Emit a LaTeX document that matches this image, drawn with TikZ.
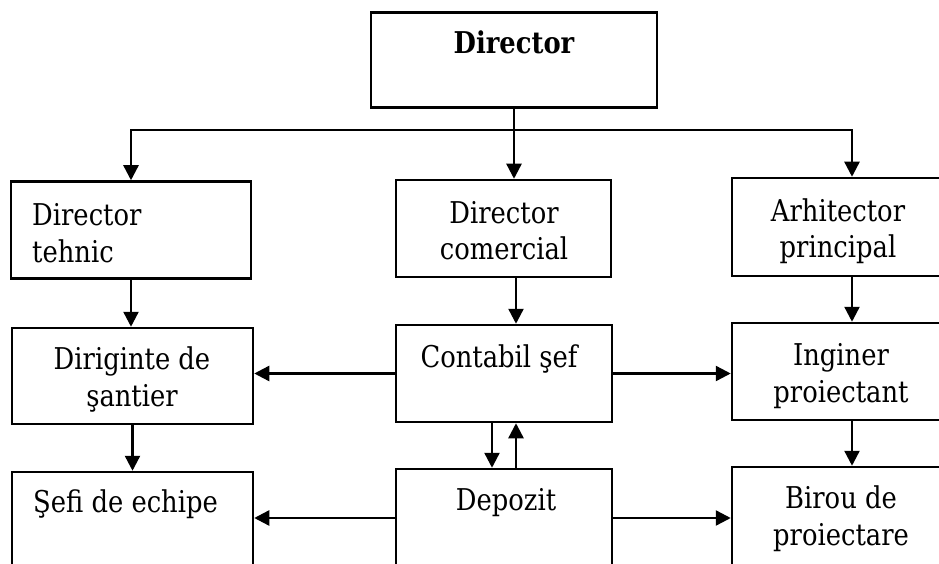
\documentclass[tikz,border=0pt]{standalone}
\usepackage{fontspec}
\setmainfont{DejaVu Serif}[FakeStretch=0.86]
\usetikzlibrary{arrows.meta}
\begin{document}
\begin{tikzpicture}[x=1pt,y=-1pt,
  box/.style={draw, line width=2.5pt, inner sep=0pt, rectangle},
  txt/.style={inner sep=0pt, font=\fontsize{30}{36}\selectfont},
  arr/.style={line width=2.4pt, -{Triangle[length=15pt,width=15pt]}}]
\clip (0,0) rectangle (939,564);
\fill[white] (0,0) rectangle (939,564);
% boxes
\node[box, minimum width=286pt, minimum height=95pt] (dir) at (514,60) {};
\node[box, minimum width=240pt, minimum height=97pt] (teh) at (131,230) {};
\node[box, minimum width=215pt, minimum height=97pt] (com) at (503.5,228.5) {};
\node[box, minimum width=240pt, minimum height=98pt] (arh) at (852,227) {};
\node[box, minimum width=241pt, minimum height=96pt] (dig) at (132.5,376) {};
\node[box, minimum width=216pt, minimum height=97pt] (con) at (504,373.5) {};
\node[box, minimum width=240pt, minimum height=97pt] (ing) at (852,371.5) {};
\node[box, minimum width=241pt, minimum height=116pt] (sef) at (132.5,530) {};
\node[box, minimum width=216pt, minimum height=118pt] (dep) at (504,528) {};
\node[box, minimum width=240pt, minimum height=118pt] (bir) at (852,526) {};
% texts
\node[txt, anchor=base, font=\fontsize{30}{36}\selectfont\bfseries] (tdir) at (514,54) {Director};
\node[txt, anchor=base west] (tteh1) at (32,225) {Director};
\node[txt, anchor=base west] (tteh2) at (32,262) {tehnic};
\node[txt, anchor=base] (tcom1) at (504,223) {Director};
\node[txt, anchor=base] (tcom2) at (504,259) {comercial};
\node[txt, anchor=base] (tarh1) at (838,221) {Arhitector};
\node[txt, anchor=base] (tarh2) at (838,257) {principal};
\node[txt, anchor=base] (tdig1) at (132,369) {Diriginte de};
\node[txt, anchor=base] (tdig2) at (132,406) {şantier};
\node[txt, anchor=base] (tcon) at (499,367) {Contabil şef};
\node[txt, anchor=base] (ting1) at (841,365) {Inginer};
\node[txt, anchor=base] (ting2) at (841,402) {proiectant};
\node[txt, anchor=base west] (tsef) at (33,512) {Şefi de echipe};
\node[txt, anchor=base] (tdep) at (506,510) {Depozit};
\node[txt, anchor=base] (tbir1) at (841,508) {Birou de};
\node[txt, anchor=base] (tbir2) at (841,545) {proiectare};
% connectors
\coordinate (busy) at (0,130);
\coordinate (bus) at (dir.south |- busy);
\coordinate (ylow) at (0,518);
\draw[line width=2.4pt] (dir.south) -- (bus);
\draw[arr] (bus) -- (bus |- com.north);
\draw[arr] (bus) -| (teh.north);
\draw[arr] (bus) -| (arh.north);
\draw[arr] (teh.south) -- (teh.south |- dig.north);
\draw[arr] ([xshift=12.5pt]com.south) -- ([xshift=12.5pt]com.south |- con.north);
\draw[arr] (arh.south) -- (arh.south |- ing.north);
\draw[arr] (dig.south) -- (dig.south |- sef.north);
\draw[arr] (ing.south) -- (ing.south |- bir.north);
\draw[arr] ([xshift=-12pt]con.south) -- ([xshift=-12pt]con.south |- dep.north);
\draw[arr] ([xshift=12pt]dep.north) -- ([xshift=12pt]dep.north |- con.south);
\draw[arr] (con.west) -- (con.west -| dig.east);
\draw[arr] (con.east) -- (con.east -| ing.west);
\draw[arr] (dep.west |- ylow) -- (sef.east |- ylow);
\draw[arr] (dep.east |- ylow) -- (bir.west |- ylow);
\end{tikzpicture}
\end{document}
